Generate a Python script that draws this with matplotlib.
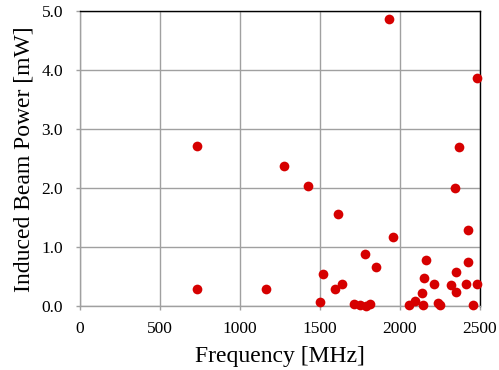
import matplotlib
matplotlib.use("Agg")
import matplotlib.pyplot as plt

# frequency [MHz] and induced beam power [mW]
freq = [733, 733, 1162, 1275, 1427, 1504, 1519, 1596, 1612, 1640,
        1715, 1750, 1787, 1815, 1783, 1852, 1933, 1958, 2056, 2098,
        2142, 2146, 2152, 2164, 2217, 2240, 2252, 2319, 2348, 2350,
        2352, 2371, 2413, 2425, 2427, 2456, 2483, 2485]
power = [2.72, 0.29, 0.28, 2.38, 2.03, 0.06, 0.54, 0.29, 1.56, 0.37,
         0.03, 0.01, 0.00, 0.04, 0.89, 0.67, 4.88, 1.17, 0.02, 0.08,
         0.22, 0.01, 0.48, 0.78, 0.37, 0.05, 0.01, 0.35, 2.01, 0.57,
         0.23, 2.70, 0.37, 1.29, 0.74, 0.01, 0.37, 3.87]

xticks = [0, 500, 1000, 1500, 2000, 2500]
yticks = [0.0, 1.0, 2.0, 3.0, 4.0, 5.0]

plt.rcParams['font.family'] = ['Liberation Serif', 'DejaVu Serif']

fig = plt.figure(figsize=(4.99, 3.70), dpi=100)
ax = fig.add_axes([0.160, 0.173, 0.801, 0.796])

ax.plot(freq, power, 'o', color='#d60000', markersize=7, markeredgewidth=0,
        clip_on=False, zorder=3)

ax.set_xlim(0, 2500)
ax.set_ylim(0, 5)
ax.set_xticks(xticks)
ax.set_yticks(yticks)
ax.set_yticklabels(['%.1f' % v for v in yticks])
ax.grid(True, color='#a0a0a0', linewidth=1.0)
ax.set_axisbelow(True)

for s in ['left', 'bottom']:
    ax.spines[s].set_color('#a0a0a0')
    ax.spines[s].set_linewidth(1.0)
for s in ['top', 'right']:
    ax.spines[s].set_color('black')
    ax.spines[s].set_linewidth(1.0)

ax.tick_params(axis='both', direction='out', length=3, width=1,
               color='#a0a0a0', labelsize=12.5)
ax.tick_params(axis='y', pad=9)
ax.tick_params(axis='x', pad=8)

ax.set_xlabel('Frequency [MHz]', fontsize=17, labelpad=6)
ax.set_ylabel('Induced Beam Power [mW]', fontsize=17, labelpad=5)

fig.savefig('out.png', dpi=100)
